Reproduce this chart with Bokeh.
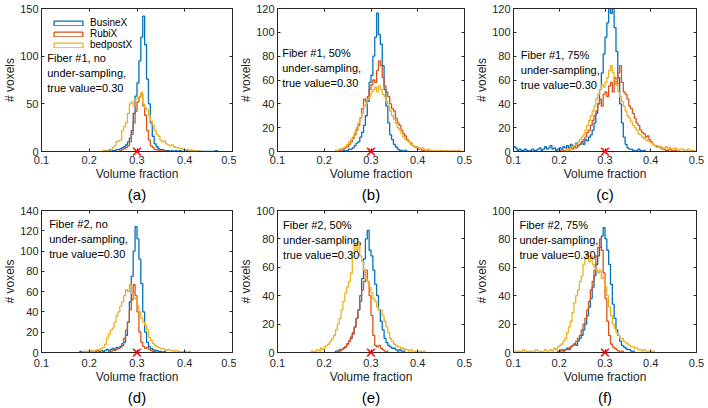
import numpy as np
from bokeh.plotting import figure
from bokeh.layouts import gridplot
from bokeh.models import (Range1d, FixedTicker, LinearAxis, Label, Title,
                          Legend, LegendItem, CustomJSTickFormatter)
from bokeh.embed import file_html
from bokeh.resources import INLINE

# ---------------- data ----------------
BIN = 0.004
true_value = 0.30
true_mark = "\u2715"
methods = ["BusineX", "RubiX", "bedpostX"]
colors = ["#0072BD", "#D95319", "#EDB120"]
x_ticks = [0.1, 0.2, 0.3, 0.4, 0.5]
x_tick_labels = ["0.1", "0.2", "0.3", "0.4", "0.5"]
panel_letters = ["(a)", "(b)", "(c)", "(d)", "(e)", "(f)"]
panel_texts = [
    "Fiber #1, no\nunder-sampling,\ntrue value=0.30",
    "Fiber #1, 50%\nunder-sampling,\ntrue value=0.30",
    "Fiber #1, 75%\nunder-sampling,\ntrue value=0.30",
    "Fiber #2, no\nunder-sampling,\ntrue value=0.30",
    "Fiber #2, 50%\nunder-sampling,\ntrue value=0.30",
    "Fiber #2, 75%\nunder-sampling,\ntrue value=0.30",
]
y_ticks_a = [0, 50, 100, 150]
y_ticks_b = [0, 20, 40, 60, 80, 100, 120]
y_ticks_c = [0, 20, 40, 60, 80, 100, 120]
y_ticks_d = [0, 20, 40, 60, 80, 100, 120, 140]
y_ticks_e = [0, 20, 40, 60, 80, 100]
y_ticks_f = [0, 20, 40, 60, 80, 100]

# panel (a)
a_blue_start = 0.232
a_blue = [1,0,1,0,1,1,2,2,3,4,5,7,10,14,22,40,58,72,95,120,142,112,76,50,30,16,8,5,3,2,2,1,1,1,0,1,0,1,0,1,0,0,0,1,0,0,0,0,0,1,0,0,0,0,0,0,0,0,1]
a_orange_start = 0.264
a_orange = [1,2,3,4,6,10,18,30,42,52,57,60,48,38,22,12,6,4,2,2,1,1,0,1]
a_yellow_start = 0.228
a_yellow = [1,0,1,2,2,4,6,10,11,12,22,26,30,40,50,52,48,55,56,58,62,50,46,44,38,32,28,22,18,16,12,10,11,8,7,6,7,5,4,4,3,3,2,2,2,1,2,1,1,0,1]

# panel (b)
b_blue_start = 0.240
b_blue = [1,0,1,2,2,3,5,7,8,12,16,22,30,42,58,64,80,96,116,98,90,72,52,38,24,14,10,6,4,2,1,1,0,1]
b_orange_start = 0.228
b_orange = [1,1,2,2,3,4,6,8,11,14,18,22,28,36,44,42,46,52,56,60,58,68,76,72,62,55,50,46,40,36,34,28,24,22,18,15,13,10,8,7,5,4,3,2,2,1,1,1,0,1]
b_yellow_start = 0.224
b_yellow = [1,1,2,2,3,4,6,8,10,12,16,20,24,28,32,38,40,44,46,50,52,54,50,55,52,48,46,42,38,34,30,27,24,20,18,15,12,10,9,8,6,5,4,4,3,2,3,2,1,2,1,1,1,0,1,0,1,1,0,1,0,1,0,1,0,1,1]

# panel (c)
c_blue_start = 0.100
c_blue = [4,3,1,2,1,1,2,1,0,1,2,1,1,2,3,1,2,4,2,3,5,2,3,1,2,3,2,4,3,5,3,6,4,5,7,5,6,8,6,10,9,12,14,18,24,32,40,52,66,82,96,108,120,116,121,104,84,62,40,24,12,6,3,2,2,1,0,1,2,1,0,1]
c_orange_start = 0.200
c_orange = [1,0,1,1,2,1,3,2,4,3,5,6,8,10,12,16,18,22,26,30,34,40,44,38,48,50,46,55,58,50,62,56,66,72,58,50,48,44,38,36,32,28,24,22,18,16,15,12,13,10,8,6,5,4,4,3,2,2,1,1,2,1,0,1]
c_yellow_start = 0.212
c_yellow = [1,2,1,3,4,5,6,8,10,12,14,18,22,26,30,34,38,44,48,52,56,54,58,62,68,72,66,60,56,50,46,42,38,34,30,28,25,22,20,18,15,14,12,11,10,9,8,7,6,5,5,4,4,3,3,4,2,3,2,2,3,2,1,2,2,1,1,2,1,1,1,0,1]

# panel (d)
d_blue_start = 0.180
d_blue = [1,0,1,0,1,1,0,1,1,2,1,2,1,2,3,2,3,4,3,5,4,6,7,10,17,30,50,75,100,124,112,92,68,40,20,10,6,4,3,2,2,1,1,0,1]
d_orange_start = 0.240
d_orange = [1,1,2,2,3,4,5,9,14,22,30,42,52,67,56,40,20,10,6,4,5,3,2,1,1]
d_yellow_start = 0.188
d_yellow = [1,0,1,1,2,1,2,3,2,4,5,8,14,18,22,24,30,36,40,46,50,56,62,60,67,58,54,53,46,40,34,30,27,22,15,12,9,7,6,5,4,4,3,2,3,2,2,1,2,1,1,0,1,1,0,1]

# panel (e)
e_blue_start = 0.224
e_blue = [1,1,2,2,3,4,6,8,10,13,18,24,30,40,52,66,80,86,72,68,58,48,40,30,22,16,10,7,5,4,3,3,2,1,2,1,1]
e_orange_start = 0.228
e_orange = [1,1,2,3,4,6,8,11,14,18,24,30,36,44,50,58,50,40,26,12,5,4,5,3,2,1,1]
e_yellow_start = 0.172
e_yellow = [1,0,1,2,1,3,2,4,5,6,8,10,12,16,20,24,30,36,42,46,50,56,70,76,72,78,68,64,58,52,50,46,42,38,36,32,30,30,26,22,18,14,10,8,6,5,4,4,3,3,2,2,1,2,1,1,0,1,1,0,1]

# panel (f)
f_blue_start = 0.200
f_blue = [1,2,1,2,3,2,4,5,6,5,8,10,12,16,20,26,32,38,46,54,62,68,74,82,88,80,72,62,48,34,24,16,12,8,5,4,3,2,2,1,1]
f_orange_start = 0.196
f_orange = [1,1,2,1,2,2,3,4,5,6,8,10,12,16,20,24,30,36,44,50,58,68,74,80,72,56,38,22,12,6,4,3,2,1,1,1]
f_yellow_start = 0.100
f_yellow = [1,0,1,1,0,2,1,1,0,1,0,1,2,1,1,0,1,2,1,1,2,1,3,2,4,5,6,8,10,14,18,22,28,35,40,44,50,54,62,66,70,64,68,62,60,58,56,58,52,54,46,40,32,26,20,17,14,12,10,10,8,7,6,5,4,4,3,3,2,2,1,2,1,1,0,1,1]

series_by_panel = [
    [(a_blue_start, a_blue), (a_orange_start, a_orange), (a_yellow_start, a_yellow)],
    [(b_blue_start, b_blue), (b_orange_start, b_orange), (b_yellow_start, b_yellow)],
    [(c_blue_start, c_blue), (c_orange_start, c_orange), (c_yellow_start, c_yellow)],
    [(d_blue_start, d_blue), (d_orange_start, d_orange), (d_yellow_start, d_yellow)],
    [(e_blue_start, e_blue), (e_orange_start, e_orange), (e_yellow_start, e_yellow)],
    [(f_blue_start, f_blue), (f_orange_start, f_orange), (f_yellow_start, f_yellow)],
]
y_ticks_by_panel = [y_ticks_a, y_ticks_b, y_ticks_c, y_ticks_d, y_ticks_e, y_ticks_f]

# ---------------- layout / style ----------------
FONT = "Liberation Sans"
TXT = "#262626"
# (left, right, top, bottom border, width, height, tick-label standoff)
geom = [
    (37, 4, 8, 51, 236, 203, -8), (37, 7, 8, 51, 236, 203, -8), (34, 12, 8, 51, 236, 203, -8),
    (37, 4, 7, 56, 236, 205, -6), (37, 8, 7, 56, 236, 205, -6), (34, 11, 7, 56, 236, 205, -6),
]
# annotation anchor (data x, data y of text top)
text_pos = [(0.112, 104), (0.110, 88), (0.116, 86), (0.116, 133), (0.112, 94), (0.113, 94)]
MARK_STANDOFF = -9      # pulls the true-value cross up onto the x axis line

blank = CustomJSTickFormatter(code="return ''")
mark_labels = {t: (true_mark if abs(t - true_value) < 1e-9 else "") for t in x_ticks}


def stairs(p, start, counts, color):
    n = len(counts)
    xs = [start] + [start + i * BIN for i in range(n)] + [start + n * BIN]
    ys = [0] + list(counts) + [0]
    return p.step(xs, ys, mode="after", line_color=color, line_width=1.3)


def style_axis(ax, ticks, labels=True):
    ax.ticker = FixedTicker(ticks=ticks)
    ax.major_tick_in = 3
    ax.major_tick_out = 0
    ax.minor_tick_in = 0
    ax.minor_tick_out = 0
    ax.axis_line_color = TXT
    ax.major_tick_line_color = TXT
    if labels:
        ax.major_label_text_font = FONT
        ax.major_label_text_font_size = "11px"
        ax.major_label_text_color = TXT
        ax.major_label_standoff = 3
        ax.axis_label_text_font = FONT
        ax.axis_label_text_font_size = "12px"
        ax.axis_label_text_font_style = "normal"
        ax.axis_label_text_color = TXT
        ax.axis_label_standoff = 0
    else:
        ax.formatter = blank
        ax.major_label_text_font_size = "1px"
        ax.major_label_standoff = 0


figs = []
for i in range(6):
    lb, rb, tb, bb, w, h, main_standoff = geom[i]
    yt = y_ticks_by_panel[i]
    p = figure(width=w, height=h, x_range=Range1d(0.1, 0.5), y_range=Range1d(0, yt[-1]),
               output_backend="svg", toolbar_location=None, x_axis_location=None,
               min_border_left=lb, min_border_right=rb, min_border_top=tb, min_border_bottom=bb,
               y_axis_label="# voxels")
    p.grid.visible = False
    p.outline_line_color = TXT
    p.background_fill_color = "white"

    # row nearest the frame: axis line, inner ticks and the true-value cross on the axis
    mark_ax = LinearAxis(major_label_overrides=mark_labels)
    style_axis(mark_ax, x_ticks)
    mark_ax.major_label_text_color = "#FF0000"
    mark_ax.major_label_text_font = "DejaVu Sans"
    mark_ax.major_label_text_font_size = "15px"
    mark_ax.major_label_standoff = MARK_STANDOFF
    p.add_layout(mark_ax, "below")

    # tick labels and axis title
    main_ax = LinearAxis(axis_label="Volume fraction")
    style_axis(main_ax, x_ticks)
    main_ax.axis_line_color = None
    main_ax.major_tick_line_color = None
    main_ax.major_label_standoff = main_standoff
    main_ax.major_label_overrides = {t: l for t, l in zip(x_ticks, x_tick_labels)}
    p.add_layout(main_ax, "below")

    style_axis(p.yaxis[0], yt)
    top_ax = LinearAxis()
    style_axis(top_ax, x_ticks, labels=False)
    p.add_layout(top_ax, "above")
    right_ax = LinearAxis()
    style_axis(right_ax, yt, labels=False)
    p.add_layout(right_ax, "right")

    for (start, counts), c in zip(series_by_panel[i], colors):
        stairs(p, start, counts, c)

    tx, ty = text_pos[i]
    p.add_layout(Label(x=tx, y=ty, text=panel_texts[i], text_font=FONT, text_font_size="11px",
                       text_baseline="top", text_align="left", text_color="black",
                       text_line_height=1.25))

    if i == 0:
        dummies = [p.quad(left=[np.nan], right=[np.nan], top=[np.nan], bottom=[np.nan],
                          fill_alpha=0, line_color=c, line_width=1.3) for c in colors]
        legend = Legend(items=[LegendItem(label=m, renderers=[r]) for m, r in zip(methods, dummies)],
                        location="top_left", margin=0, padding=9, spacing=-2,
                        glyph_width=36, glyph_height=6, label_standoff=4,
                        label_text_font=FONT, label_text_font_size="10px",
                        label_text_color="black",
                        label_height=9, background_fill_alpha=0, border_line_alpha=0)
        p.add_layout(legend)

    p.add_layout(Title(text=panel_letters[i], align="center", text_font=FONT,
                       text_font_size="15px", text_font_style="normal", text_color="black",
                       standoff=1), "below")
    figs.append(p)

grid = gridplot([figs[:3], figs[3:]], toolbar_location=None)
open("out.html", "w").write(file_html(grid, INLINE))
